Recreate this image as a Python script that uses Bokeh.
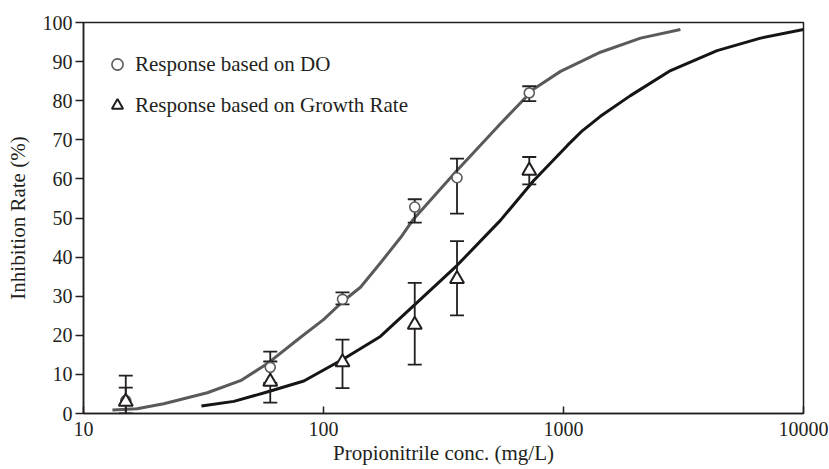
from bokeh.plotting import figure
from bokeh.models import Legend, LegendItem, FixedTicker, NumeralTickFormatter
from bokeh.embed import file_html
from bokeh.resources import INLINE

# Measured data points (mg/L, %)
conc = [15, 60, 120, 240, 360, 720]
do_mean = [3.3, 11.8, 29.2, 52.8, 60.3, 82.0]
do_lower = [0.0, 7.8, 27.9, 48.8, 51.1, 79.9]
do_upper = [6.6, 15.8, 31.0, 54.8, 65.2, 83.7]
gr_mean = [3.0, 8.1, 13.1, 22.7, 34.4, 62.1]
gr_lower = [-3.8, 2.8, 6.5, 12.5, 25.1, 58.6]
gr_upper = [9.7, 13.3, 18.9, 33.4, 44.1, 65.6]

# Fitted response curves
fit_do_x = [13.2, 16.7, 21.6, 32.8, 45.1, 58.2, 80.3, 100, 121.6, 142.6, 172.6,
            209.6, 235, 359, 546, 752, 972, 1210, 1425, 2095, 3070]
fit_do_y = [0.9, 1.2, 2.5, 5.3, 8.4, 12.7, 19.5, 24.0, 28.9, 32.3, 38.5,
            45.0, 49.4, 62.1, 74.1, 83.0, 87.5, 90.3, 92.4, 96.0, 98.2]
fit_gr_x = [31, 42.3, 58.2, 82.8, 121.6, 172.6, 237.7, 360.5, 546, 752, 1036,
            1197, 1425, 1901, 2793, 4365, 6620, 10000]
fit_gr_y = [1.9, 3.1, 5.5, 8.3, 14.0, 19.7, 27.6, 37.9, 49.4, 59.6, 68.5,
            72.3, 76.0, 81.3, 87.7, 92.8, 96.0, 98.2]

x_ticks = [10, 100, 1000, 10000]
y_ticks = [0, 10, 20, 30, 40, 50, 60, 70, 80, 90, 100]

FONT = "Liberation Serif"
INK = "#231f20"
GRAY = "#5a5a5a"

p = figure(width=829, height=469, x_axis_type="log", x_range=(10, 10000),
           y_range=(0, 100), output_backend="svg", toolbar_location=None,
           min_border_left=83, min_border_right=26, min_border_top=22,
           min_border_bottom=56)
p.grid.visible = False
p.outline_line_color = INK
p.outline_line_width = 1.5
p.background_fill_color = "white"
p.border_fill_color = "white"

# curves
p.line(fit_do_x, fit_do_y, line_color=GRAY, line_width=3)
p.line(fit_gr_x, fit_gr_y, line_color="#151515", line_width=3)

# error bars
p.segment(x0=conc, y0=do_lower, x1=conc, y1=do_upper, line_color=INK, line_width=1.8)
p.segment(x0=conc, y0=gr_lower, x1=conc, y1=gr_upper, line_color=INK, line_width=1.8)
for ys in (do_lower, do_upper, gr_lower, gr_upper):
    p.scatter(conc, ys, marker="dash", size=14, line_color=INK, line_width=1.8)

# markers
r_do = p.scatter(conc, do_mean, marker="circle", size=10, fill_color="white",
                 line_color=GRAY, line_width=1.6)
r_gr = p.scatter(conc, gr_mean, marker="triangle", size=14, fill_color="white",
                 line_color=INK, line_width=2)

legend = Legend(items=[LegendItem(label="Response based on DO", renderers=[r_do]),
                       LegendItem(label="Response based on Growth Rate", renderers=[r_gr])],
                location=(20, 294), margin=0, padding=0, spacing=13,
                glyph_width=28, glyph_height=28, label_height=28, label_standoff=4,
                border_line_color=None, background_fill_alpha=0,
                label_text_font=FONT, label_text_font_size="21px",
                label_text_color=INK)
p.add_layout(legend, "center")

# axes
p.xaxis.ticker = FixedTicker(ticks=x_ticks, minor_ticks=[])
p.xaxis.formatter = NumeralTickFormatter(format="0")
p.yaxis.ticker = FixedTicker(ticks=y_ticks, minor_ticks=[])
for ax in (p.xaxis[0], p.yaxis[0]):
    ax.axis_line_color = INK
    ax.axis_line_width = 1.5
    ax.major_tick_line_color = INK
    ax.major_tick_line_width = 1.5
    ax.minor_tick_line_color = None
    ax.major_label_text_font = FONT
    ax.major_label_text_font_size = "20px"
    ax.major_label_text_color = INK
    ax.axis_label_text_font = FONT
    ax.axis_label_text_font_size = "21px"
    ax.axis_label_text_font_style = "normal"
    ax.axis_label_text_color = INK

p.xaxis.major_tick_in = 7
p.xaxis.major_tick_out = 0
p.xaxis.major_label_standoff = 8
p.xaxis.axis_label = "Propionitrile conc. (mg/L)"
p.xaxis.axis_label_standoff = 2

p.yaxis.major_tick_in = 0
p.yaxis.major_tick_out = 8
p.yaxis.major_label_standoff = 3
p.yaxis.axis_label = "Inhibition Rate (%)"
p.yaxis.axis_label_standoff = 10

open("out.html", "w").write(file_html(p, INLINE))
